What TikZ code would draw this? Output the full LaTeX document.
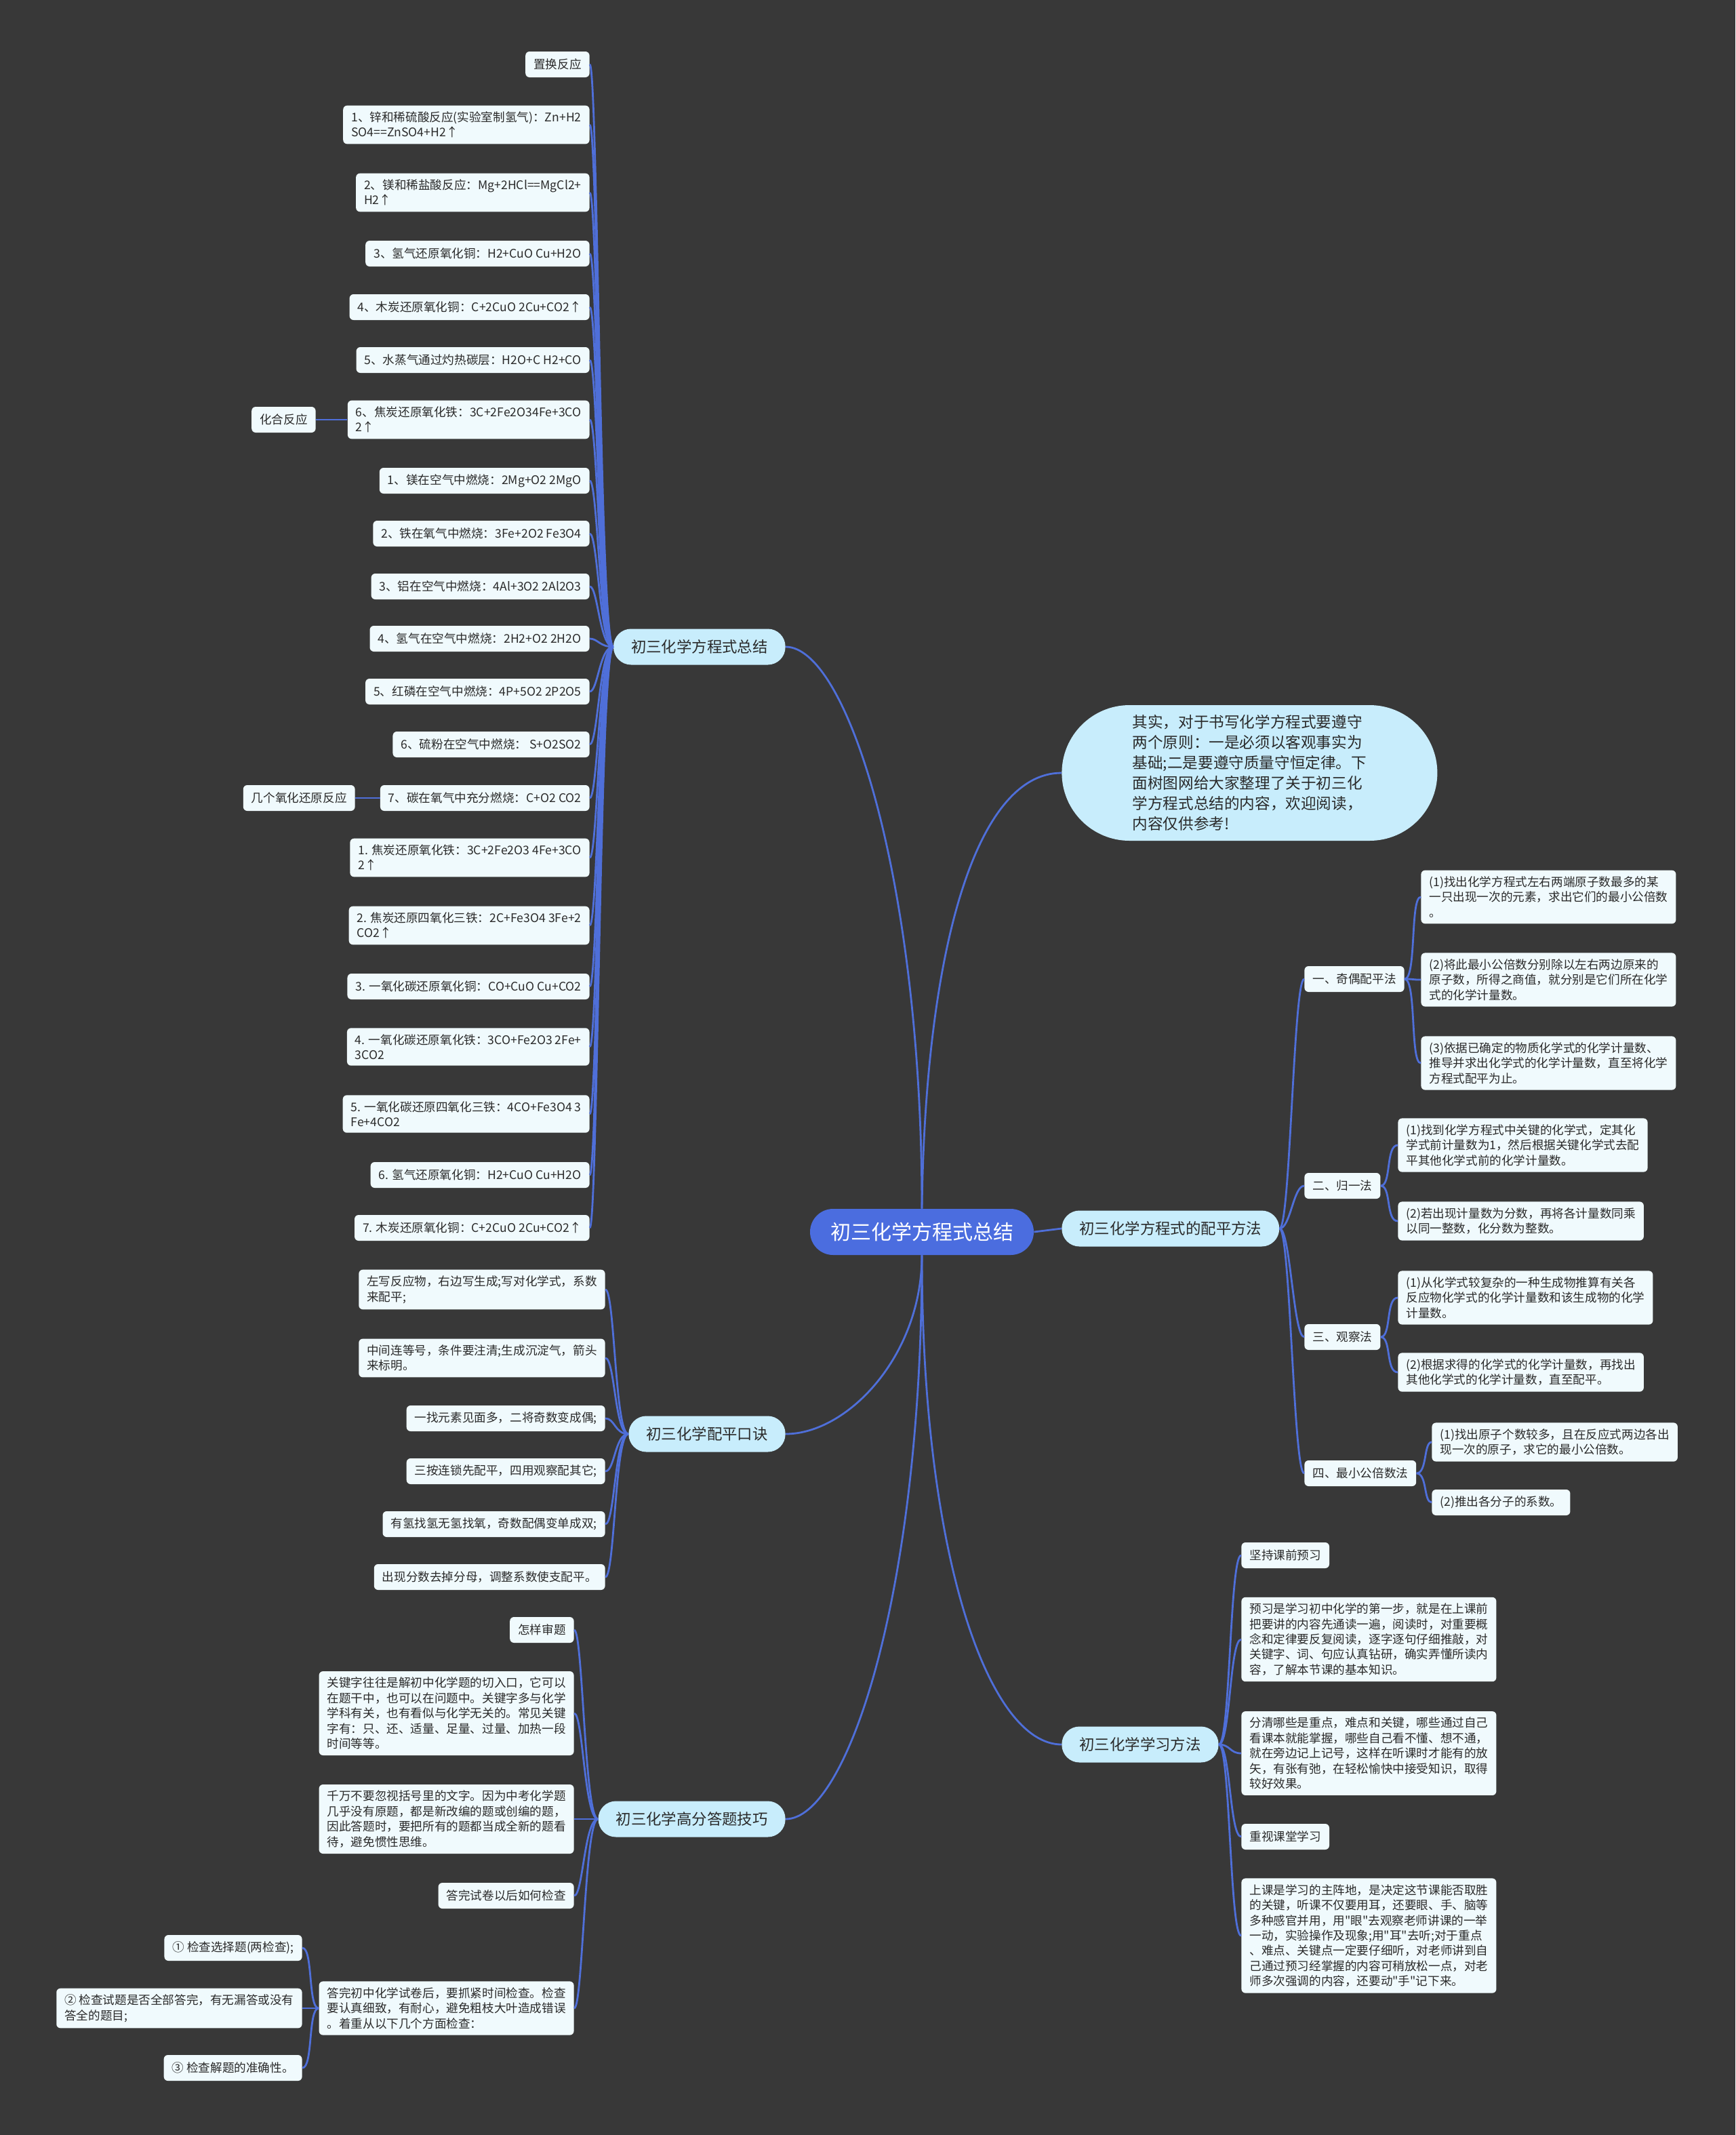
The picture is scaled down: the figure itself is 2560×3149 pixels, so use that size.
\documentclass[tikz,border=0pt]{standalone}
\usepackage{fontspec}
\setmainfont{Noto Sans CJK SC}[Ligatures=TeXOff]
\usetikzlibrary{calc}
\definecolor{bg}{HTML}{383838}
\definecolor{linec}{HTML}{4F6FD9}
\definecolor{centerc}{HTML}{4B6DDF}
\definecolor{branchc}{HTML}{C8EDFC}
\definecolor{leafc}{HTML}{F0FAFD}
\definecolor{txt}{HTML}{2A2A2A}
\newcommand\connL[4]{\draw[conn] (#1.west) .. controls +(-#3,0) and +(#4,0) .. (#2.east);}
\newcommand\connR[4]{\draw[conn] (#1.east) .. controls +(#3,0) and +(-#4,0) .. (#2.west);}
\begin{document}
\begin{tikzpicture}[x=0.5pt,y=-0.5pt,
 conn/.style={draw=linec,line width=1.4pt},
 leaf/.style={fill=leafc,text=txt,rounded corners=3pt,inner xsep=6pt,inner ysep=4.5pt,align=left,font=\fontsize{8.8}{11.2}\selectfont,minimum height=19pt},
 branch/.style={fill=branchc,text=txt,rounded corners=13pt,inner xsep=13pt,minimum height=26.5pt,font=\fontsize{11.2}{14}\selectfont},
 rootnode/.style={fill=centerc,text=white,rounded corners=17pt,minimum width=165pt,minimum height=34pt,font=\fontsize{15}{18}\selectfont}]
\fill[bg] (0,0) rectangle (2560,3149);
\useasboundingbox (0,0) rectangle (2560,3149);

% root and branches
\node[rootnode] (root) at (1360,1817) {初三化学方程式总结};
\node[branch,anchor=east] (b1) at (1159,954) {初三化学方程式总结};
\node[branch,anchor=west,minimum width=277pt,minimum height=100pt,rounded corners=50pt,align=left,font=\fontsize{11.3}{15}\selectfont] (intro) at (1566,1140) {其实，对于书写化学方程式要遵守\\两个原则：一是必须以客观事实为\\基础;二是要遵守质量守恒定律。下\\面树图网给大家整理了关于初三化\\学方程式总结的内容，欢迎阅读，\\内容仅供参考!};
\node[branch,anchor=west] (b3) at (1566,1812) {初三化学方程式的配平方法};
\node[branch,anchor=east] (b4) at (1159,2115) {初三化学配平口诀};
\node[branch,anchor=west] (b5) at (1566,2573) {初三化学学习方法};
\node[branch,anchor=east] (b6) at (1159,2683) {初三化学高分答题技巧};

\draw[conn] (root.north) .. controls (1360,1300) and (1250,954) .. (b1.east);
\draw[conn] (root.north) .. controls (1365,1400) and (1440,1140) .. (intro.west);
\draw[conn] (root.east) -- (b3.west);
\draw[conn] (root.south) .. controls (1360,2000) and (1250,2115) .. (b4.east);
\draw[conn] (root.south) .. controls (1360,2350) and (1250,2683) .. (b6.east);
\draw[conn] (root.south) .. controls (1360,2300) and (1460,2573) .. (b5.west);

% branch 1 leaves
\node[leaf,anchor=east] (a0) at (870,95) {置换反应};
\node[leaf,anchor=east] (a1) at (870,184) {1、锌和稀硫酸反应(实验室制氢气)：Zn+H2\\SO4==ZnSO4+H2↑};
\node[leaf,anchor=east] (a2) at (870,284) {2、镁和稀盐酸反应：Mg+2HCl==MgCl2+\\H2↑};
\node[leaf,anchor=east] (a3) at (870,374) {3、氢气还原氧化铜：H2+CuO Cu+H2O};
\node[leaf,anchor=east] (a4) at (870,453) {4、木炭还原氧化铜：C+2CuO 2Cu+CO2↑};
\node[leaf,anchor=east] (a5) at (870,531) {5、水蒸气通过灼热碳层：H2O+C H2+CO};
\node[leaf,anchor=east] (a6) at (870,619) {6、焦炭还原氧化铁：3C+2Fe2O34Fe+3CO\\2↑};
\node[leaf,anchor=east] (s1) at (466,619) {化合反应};
\node[leaf,anchor=east] (a7) at (870,709) {1、镁在空气中燃烧：2Mg+O2 2MgO};
\node[leaf,anchor=east] (a8) at (870,787) {2、铁在氧气中燃烧：3Fe+2O2 Fe3O4};
\node[leaf,anchor=east] (a9) at (870,865) {3、铝在空气中燃烧：4Al+3O2 2Al2O3};
\node[leaf,anchor=east] (a10) at (870,942) {4、氢气在空气中燃烧：2H2+O2 2H2O};
\node[leaf,anchor=east] (a11) at (870,1020) {5、红磷在空气中燃烧：4P+5O2 2P2O5};
\node[leaf,anchor=east] (a12) at (870,1098) {6、硫粉在空气中燃烧： S+O2SO2};
\node[leaf,anchor=east] (a13) at (870,1177) {7、碳在氧气中充分燃烧：C+O2 CO2};
\node[leaf,anchor=east] (s2) at (524,1177) {几个氧化还原反应};
\node[leaf,anchor=east] (a14) at (870,1265) {1. 焦炭还原氧化铁：3C+2Fe2O3 4Fe+3CO\\2↑};
\node[leaf,anchor=east] (a15) at (870,1365) {2. 焦炭还原四氧化三铁：2C+Fe3O4 3Fe+2\\CO2↑};
\node[leaf,anchor=east] (a16) at (870,1455) {3. 一氧化碳还原氧化铜：CO+CuO Cu+CO2};
\node[leaf,anchor=east] (a17) at (870,1544) {4. 一氧化碳还原氧化铁：3CO+Fe2O3 2Fe+\\3CO2};
\node[leaf,anchor=east] (a18) at (870,1643) {5. 一氧化碳还原四氧化三铁：4CO+Fe3O4 3\\Fe+4CO2};
\node[leaf,anchor=east] (a19) at (870,1733) {6. 氢气还原氧化铜：H2+CuO Cu+H2O};
\node[leaf,anchor=east] (a20) at (870,1811) {7. 木炭还原氧化铜：C+2CuO 2Cu+CO2↑};
\foreach \i in {0,...,20} {\connL{b1}{a\i}{20}{12}}
\draw[conn] (a6.west) -- (s1.east);
\draw[conn] (a13.west) -- (s2.east);

% branch 4 leaves
\node[leaf,anchor=east] (p1) at (893,1902) {左写反应物，右边写生成;写对化学式，系数\\来配平;};
\node[leaf,anchor=east] (p2) at (893,2003) {中间连等号，条件要注清;生成沉淀气，箭头\\来标明。};
\node[leaf,anchor=east] (p3) at (893,2092) {一找元素见面多，二将奇数变成偶;};
\node[leaf,anchor=east] (p4) at (893,2170) {三按连锁先配平，四用观察配其它;};
\node[leaf,anchor=east] (p5) at (893,2248) {有氢找氢无氢找氧，奇数配偶变单成双;};
\node[leaf,anchor=east] (p6) at (893,2326) {出现分数去掉分母，调整系数使支配平。};
\foreach \i in {1,...,6} {\connL{b4}{p\i}{20}{14}}

% branch 6 leaves
\node[leaf,anchor=east] (g1) at (847,2404) {怎样审题};
\node[leaf,anchor=east] (g2) at (847,2527) {关键字往往是解初中化学题的切入口，它可以\\在题干中，也可以在问题中。关键字多与化学\\学科有关，也有看似与化学无关的。常见关键\\字有：只、还、适量、足量、过量、加热一段\\时间等等。};
\node[leaf,anchor=east] (g3) at (847,2683) {千万不要忽视括号里的文字。因为中考化学题\\几乎没有原题，都是新改编的题或创编的题，\\因此答题时，要把所有的题都当成全新的题看\\待，避免惯性思维。};
\node[leaf,anchor=east] (g4) at (847,2796) {答完试卷以后如何检查};
\node[leaf,anchor=east] (g5) at (847,2962) {答完初中化学试卷后，要抓紧时间检查。检查\\要认真细致，有耐心，避免粗枝大叶造成错误\\。着重从以下几个方面检查：};
\foreach \i in {1,...,5} {\connL{b6}{g\i}{20}{13}}
\node[leaf,anchor=east] (k1) at (446,2873) {① 检查选择题(两检查);};
\node[leaf,anchor=east] (k2) at (446,2962) {② 检查试题是否全部答完，有无漏答或没有\\答全的题目;};
\node[leaf,anchor=east] (k3) at (446,3050) {③ 检查解题的准确性。};
\foreach \i in {1,2,3} {\connL{g5}{k\i}{16}{16}}

% branch 3 subtree
\node[leaf,anchor=west] (m1) at (1924,1444) {一、奇偶配平法};
\node[leaf,anchor=west] (m2) at (1924,1749) {二、归一法};
\node[leaf,anchor=west] (m3) at (1924,1972) {三、观察法};
\node[leaf,anchor=west] (m4) at (1924,2173) {四、最小公倍数法};
\foreach \i in {1,...,4} {\connR{b3}{m\i}{16}{16}}
\node[leaf,anchor=west] (n1) at (2096,1323) {(1)找出化学方程式左右两端原子数最多的某\\一只出现一次的元素，求出它们的最小公倍数\\。};
\node[leaf,anchor=west] (n2) at (2096,1445) {(2)将此最小公倍数分别除以左右两边原来的\\原子数，所得之商值，就分别是它们所在化学\\式的化学计量数。};
\node[leaf,anchor=west] (n3) at (2096,1568) {(3)依据已确定的物质化学式的化学计量数、\\推导并求出化学式的化学计量数，直至将化学\\方程式配平为止。};
\foreach \i in {1,2,3} {\connR{m1}{n\i}{18}{16}}
\node[leaf,anchor=west] (q1) at (2062,1689) {(1)找到化学方程式中关键的化学式，定其化\\学式前计量数为1，然后根据关键化学式去配\\平其他化学式前的化学计量数。};
\node[leaf,anchor=west] (q2) at (2062,1801) {(2)若出现计量数为分数，再将各计量数同乘\\以同一整数，化分数为整数。};
\connR{m2}{q1}{16}{18}
\connR{m2}{q2}{16}{18}
\node[leaf,anchor=west] (r1) at (2062,1914) {(1)从化学式较复杂的一种生成物推算有关各\\反应物化学式的化学计量数和该生成物的化学\\计量数。};
\node[leaf,anchor=west] (r2) at (2062,2024) {(2)根据求得的化学式的化学计量数，再找出\\其他化学式的化学计量数，直至配平。};
\connR{m3}{r1}{16}{18}
\connR{m3}{r2}{16}{18}
\node[leaf,anchor=west] (t1) at (2112,2127) {(1)找出原子个数较多，且在反应式两边各出\\现一次的原子，求它的最小公倍数。};
\node[leaf,anchor=west] (t2) at (2112,2216) {(2)推出各分子的系数。};
\connR{m4}{t1}{16}{12}
\connR{m4}{t2}{16}{12}

% branch 5 leaves
\node[leaf,anchor=west] (u1) at (1831,2294) {坚持课前预习};
\node[leaf,anchor=west] (u2) at (1831,2418) {预习是学习初中化学的第一步，就是在上课前\\把要讲的内容先通读一遍，阅读时，对重要概\\念和定律要反复阅读，逐字逐句仔细推敲，对\\关键字、词、句应认真钻研，确实弄懂所读内\\容，了解本节课的基本知识。};
\node[leaf,anchor=west] (u3) at (1831,2586) {分清哪些是重点，难点和关键，哪些通过自己\\看课本就能掌握，哪些自己看不懂、想不通，\\就在旁边记上记号，这样在听课时才能有的放\\矢，有张有弛，在轻松愉快中接受知识，取得\\较好效果。};
\node[leaf,anchor=west] (u4) at (1831,2709) {重视课堂学习};
\node[leaf,anchor=west] (u5) at (1831,2855) {上课是学习的主阵地，是决定这节课能否取胜\\的关键，听课不仅要用耳，还要眼、手、脑等\\多种感官并用，用"眼"去观察老师讲课的一举\\一动，实验操作及现象;用"耳"去听;对于重点\\、难点、关键点一定要仔细听，对老师讲到自\\己通过预习经掌握的内容可稍放松一点，对老\\师多次强调的内容，还要动"手"记下来。};
\foreach \i in {1,...,5} {\connR{b5}{u\i}{17}{17}}
\end{tikzpicture}
\end{document}
